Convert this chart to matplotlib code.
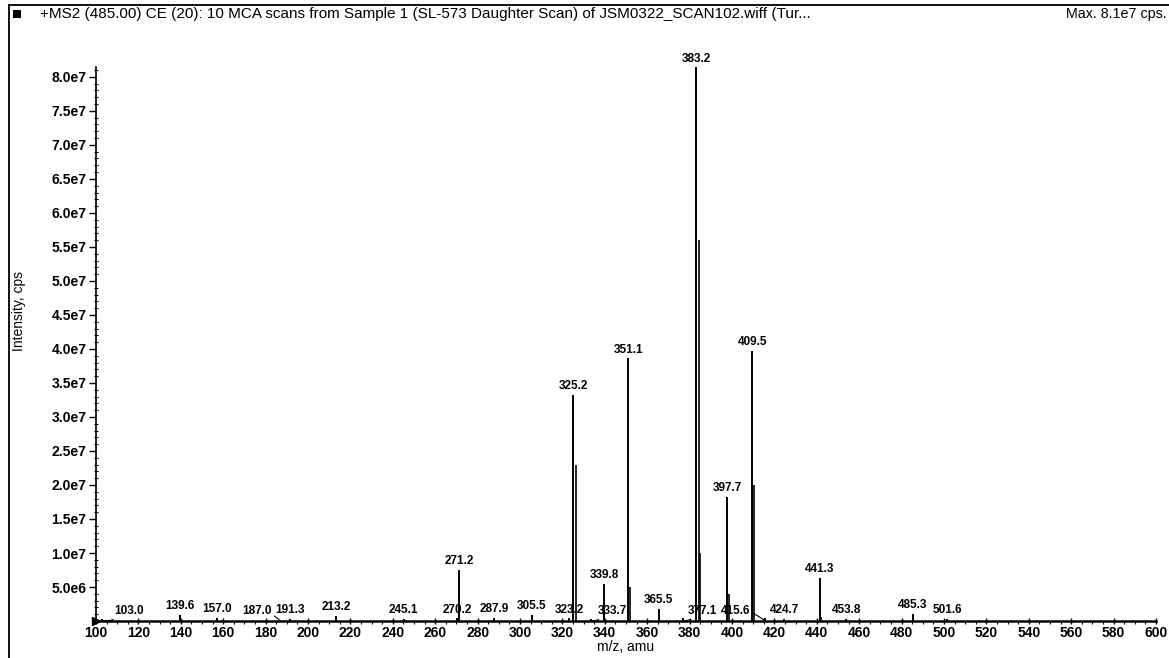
"""
MS2 daughter-ion spectrum of m/z 485 (stick plot), redrawn from an
instrument printout.
"""
import matplotlib
matplotlib.use("Agg")
import matplotlib.pyplot as plt
from matplotlib.lines import Line2D
from matplotlib.patches import Rectangle
from matplotlib.ticker import FixedLocator, FuncFormatter, MultipleLocator

plt.rcParams["font.family"] = ["Liberation Sans", "DejaVu Sans"]

# labelled peaks: m/z and intensity (cps)
peak_mz = [103.0, 139.6, 157.0, 187.0, 191.3, 213.2, 245.1, 270.2, 271.2,
           287.9, 305.5, 323.2, 325.2, 333.7, 339.8, 351.1, 365.5, 377.1,
           383.2, 397.7, 409.5, 415.6, 424.7, 441.3, 453.8, 485.3, 501.6]
peak_int = [0.3e6, 0.9e6, 0.5e6, 0.2e6, 0.3e6, 0.7e6, 0.3e6, 0.4e6, 7.5e6,
            0.5e6, 0.9e6, 0.4e6, 3.33e7, 0.3e6, 5.5e6, 3.86e7, 1.8e6, 0.4e6,
            8.14e7, 1.83e7, 3.97e7, 0.4e6, 0.3e6, 6.3e6, 0.3e6, 1.1e6, 0.3e6]

# unlabelled shoulder / satellite lines next to the big peaks
sat_mz = [326.3, 352.0, 384.2, 385.0, 398.4, 410.4, 442.0]
sat_int = [2.3e7, 0.5e7, 5.6e7, 1.0e7, 0.4e7, 2.0e7, 0.6e6]

y_ticks = [5e6 * i for i in range(1, 17)]
y_minor = [1e6 * i for i in range(1, 82)]

title = ("+MS2 (485.00) CE (20): 10 MCA scans from Sample 1 "
         "(SL-573 Daughter Scan) of JSM0322_SCAN102.wiff (Tur...")
max_text = "Max. 8.1e7 cps."

# labels the printout pushed sideways (offset in points, leader drawn)
label_shift = {103.0: 19, 187.0: -17, 333.7: 15, 377.1: 14, 415.6: -21}


def sci(v, _pos):
    s = f"{v:.1e}"
    return s.replace("e+0", "e").replace("e+", "e")


fig = plt.figure(figsize=(11.69, 6.58), dpi=100)
ax = fig.add_axes([0.0821, 0.0562, 0.9068, 0.889])

ax.vlines(peak_mz, 0, peak_int, color="black", linewidth=1.4)
ax.vlines(sat_mz, 0, sat_int, color="black", linewidth=1.2)

for mz, h in zip(peak_mz, peak_int):
    dx = label_shift.get(mz, 0)
    if dx:
        ax.annotate(f"{mz:.1f}", (mz, 0), xytext=(dx, 3), textcoords="offset points",
                    ha="center", va="bottom", fontsize=8.5, fontweight="bold",
                    arrowprops=dict(arrowstyle="-", color="black", lw=0.8,
                                    shrinkA=0, shrinkB=0,
                                    connectionstyle="arc3,rad=-0.2"))
    else:
        ax.annotate(f"{mz:.1f}", (mz, h), xytext=(0, 2), textcoords="offset points",
                    ha="center", va="bottom", fontsize=8.5, fontweight="bold")

ax.set_xlim(100, 600)
ax.set_ylim(0, 8.6e7)

ax.xaxis.set_major_locator(MultipleLocator(20))
ax.xaxis.set_minor_locator(MultipleLocator(5))
ax.yaxis.set_major_locator(FixedLocator(y_ticks))
ax.yaxis.set_minor_locator(FixedLocator(y_minor))
ax.yaxis.set_major_formatter(FuncFormatter(sci))

ax.tick_params(axis="y", which="major", direction="out", length=5, width=1.0,
               labelsize=10, pad=2)
ax.tick_params(axis="y", which="minor", direction="inout", length=3, width=0.8)
ax.tick_params(axis="x", which="major", direction="inout", length=5, width=1.0,
               labelsize=10, pad=1)
ax.tick_params(axis="x", which="minor", direction="out", length=2, width=0.8)
for lab in ax.get_xticklabels() + ax.get_yticklabels():
    lab.set_fontweight("bold")

for side in ("top", "right"):
    ax.spines[side].set_visible(False)
ax.spines["left"].set_bounds(0, 8.15e7)
ax.spines["left"].set_linewidth(1.2)
ax.spines["bottom"].set_linewidth(1.8)

# little start marker at the origin
ax.plot([100], [0], marker=">", color="black", markersize=6, clip_on=False)

ax.set_xlabel("m/z, amu", fontsize=10, labelpad=0)
ax.set_ylabel("Intensity, cps", fontsize=10)
ax.yaxis.set_label_coords(-0.066, 0.53)

# printout frame and header
fig.add_artist(Line2D([0.008, 0.008], [0.0, 0.992], color="black", linewidth=1.3))
fig.add_artist(Line2D([0.008, 1.0], [0.992, 0.992], color="black", linewidth=1.3))
fig.add_artist(Rectangle((0.0115, 0.973), 0.0068, 0.0125, transform=fig.transFigure,
                         facecolor="black", edgecolor="none"))
fig.text(0.034, 0.979, title, fontsize=11, va="center", ha="left")
fig.text(0.998, 0.979, max_text, fontsize=10.3, va="center", ha="right")

fig.savefig("out.png", dpi=100)
plt.close(fig)
